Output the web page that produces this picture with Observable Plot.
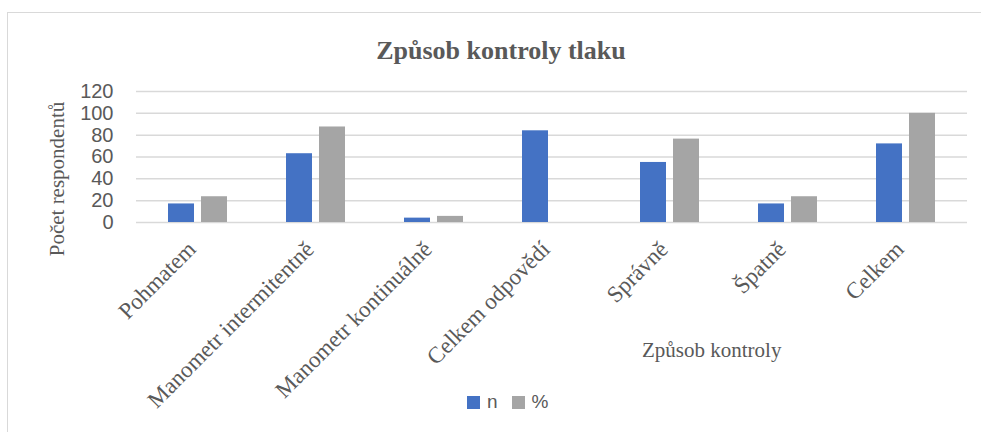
<!DOCTYPE html>
<html>
<head>
<meta charset="utf-8">
<script src="https://cdn.jsdelivr.net/npm/d3@7"></script>
<script src="https://cdn.jsdelivr.net/npm/@observablehq/plot@0.6"></script>
<style>
  html, body { margin: 0; padding: 0; background: #fff; overflow: hidden; }
  #wrap { position: relative; width: 981px; height: 432px; overflow: hidden; background: #fff; }
  #frame { position: absolute; left: 7px; top: 12px; width: 1100px; height: 600px; border: 1px solid #d9d9d9; box-sizing: border-box; }
  .layer { position: absolute; left: 0; top: 0; }
  .serif { font-family: "Liberation Serif", "DejaVu Serif", serif; color: #595959; position: absolute; white-space: nowrap; }
  #title { left: 0; width: 1002px; top: 36px; text-align: center; font-size: 26px; font-weight: bold; line-height: 30px; }
  #xtitle { left: 642px; top: 338px; font-size: 21px; line-height: 24px; }
  #ytitle { left: 57px; top: 179px; font-size: 21px; line-height: 24px; transform: translate(-50%, -50%) rotate(-90deg); }
  #legend { position: absolute; left: 467px; top: 390px; font-family: "Liberation Sans", Arial, sans-serif; font-size: 19px; color: #595959; display: flex; align-items: center; line-height: 24px; }
  #legend .sw { display: inline-block; width: 13px; height: 13px; margin-right: 7px; }
  #legend .item { display: flex; align-items: center; margin-right: 14px; }
  g[aria-label="fx-axis tick label"] { font-family: "Liberation Serif", "DejaVu Serif", serif; font-size: 23px; fill: #595959; }
  g[aria-label="y-axis tick label"] { font-family: "Liberation Sans", Arial, sans-serif; font-size: 20px; fill: #595959; }
</style>
</head>
<body>
<div id="wrap">
  <div id="frame"></div>
  <div id="grid" class="layer"></div>
  <div id="bars" class="layer"></div>
  <div id="title" class="serif">Způsob kontroly tlaku</div>
  <div id="xtitle" class="serif">Způsob kontroly</div>
  <div id="ytitle" class="serif">Počet respondentů</div>
  <div id="legend"></div>
</div>
<script>
const categories = ["Pohmatem", "Manometr intermitentně", "Manometr kontinuálně", "Celkem odpovědí", "Správně", "Špatně", "Celkem"];
const nValues = [17, 63, 4, 84, 55, 17, 72];
const pctValues = [23.6, 87.5, 5.6, null, 76.4, 23.6, 100];
const series = ["n", "%"];
const seriesColors = ["#4472C4", "#A5A5A5"];
const yTicks = [0, 20, 40, 60, 80, 100, 120];

const table = categories.flatMap((c, i) => [
  {cat: c, series: "n", value: nValues[i]},
  {cat: c, series: "%", value: pctValues[i]}
]).filter(d => d.value != null);

const dims = {
  width: 981,
  height: 432,
  marginTop: 91,
  marginBottom: 210,
  marginLeft: 136,
  marginRight: 14,
  style: {background: "transparent", color: "#595959"}
};

// Background layer: continuous gridlines and the y axis
const grid = Plot.plot({
  ...dims,
  y: {domain: [0, 120], label: null},
  marks: [
    Plot.ruleY(yTicks, {stroke: "#d9d9d9", strokeWidth: 1.5}),
    Plot.axisY({ticks: yTicks, tickSize: 0, tickPadding: 23, label: null, anchor: "left"})
  ]
});
document.getElementById("grid").appendChild(grid);

// Foreground layer: grouped bars and the category axis
const bars = Plot.plot({
  ...dims,
  fx: {domain: categories, paddingInner: 0.486, paddingOuter: 0.243, label: null},
  x: {domain: series, paddingInner: 0.2, paddingOuter: 0, axis: null},
  y: {domain: [0, 120], label: null, axis: null},
  color: {domain: series, range: seriesColors},
  marks: [
    Plot.axisFx({tickRotate: -45, tickSize: 0, tickPadding: 23, dx: -6, label: null, anchor: "bottom"}),
    Plot.barY(table, {fx: "cat", x: "series", y: "value", fill: "series"})
  ]
});
document.getElementById("bars").appendChild(bars);

const legend = document.getElementById("legend");
series.forEach((s, i) => {
  const item = document.createElement("span");
  item.className = "item";
  const sw = document.createElement("span");
  sw.className = "sw";
  sw.style.background = seriesColors[i];
  item.appendChild(sw);
  item.appendChild(document.createTextNode(s));
  legend.appendChild(item);
});
</script>
</body>
</html>
